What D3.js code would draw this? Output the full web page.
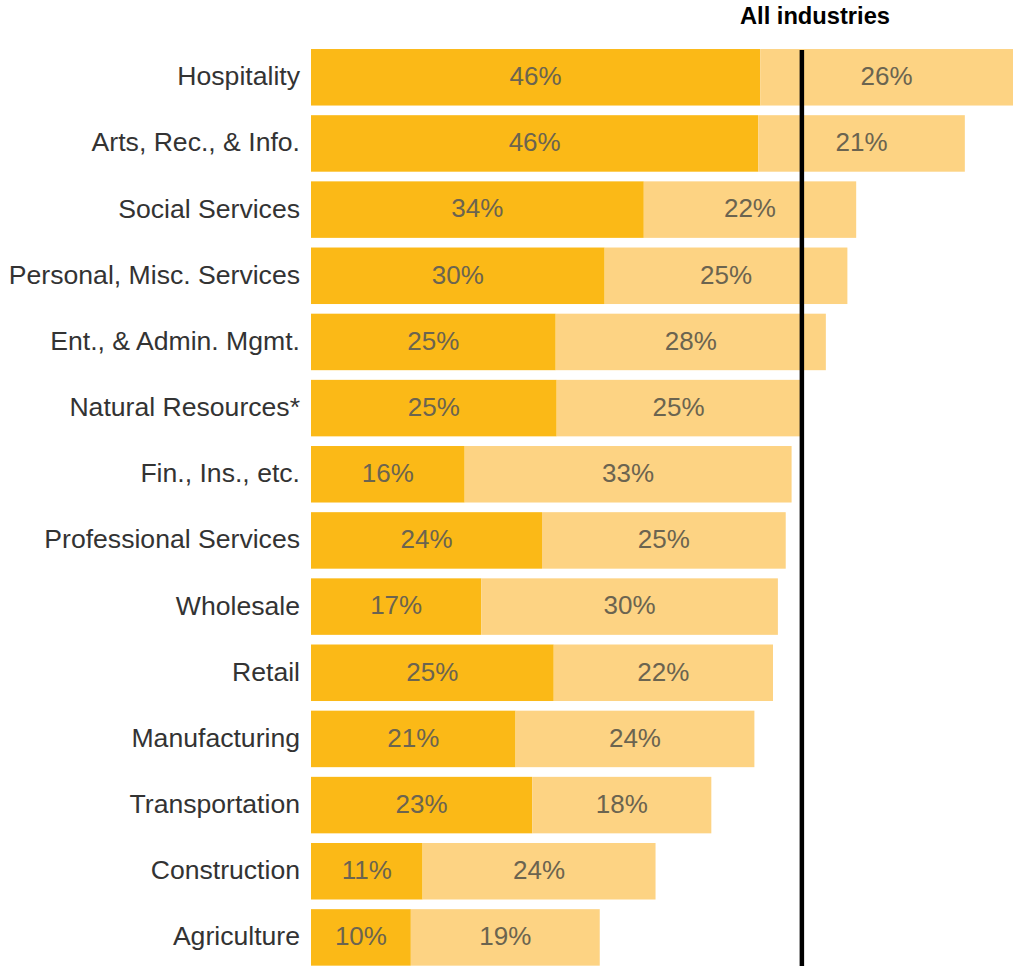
<!DOCTYPE html>
<html><head><meta charset="utf-8">
<script src="https://cdn.jsdelivr.net/npm/d3@7"></script>
<style>body{margin:0;background:#fff;} svg{display:block;}</style>
</head><body>
<svg id="c" width="1013" height="966"></svg>
<script>
const categories = ["Hospitality","Arts, Rec., & Info.","Social Services","Personal, Misc. Services","Ent., & Admin. Mgmt.","Natural Resources*","Fin., Ins., etc.","Professional Services","Wholesale","Retail","Manufacturing","Transportation","Construction","Agriculture"];
const seriesA = [45.9,45.7,34.0,30.0,25.0,25.1,15.7,23.6,17.4,24.8,20.9,22.6,11.4,10.2];
const seriesB = [26.2,21.1,21.7,24.8,27.6,24.9,33.4,24.9,30.3,22.4,24.4,18.3,23.8,19.3];
const allIndustries = 50.15;
const allLabel = "All industries";
const colors = ["#FBB917","#FDD383"];

const svg = d3.select("#c");
const x = d3.scaleLinear().domain([0,25]).range([311,555.7]);
const y = d3.scaleBand().domain(categories).range([44.2,970.5]).paddingInner(0.146).paddingOuter(0.073);

const fnt = "'Liberation Sans', Arial, sans-serif";
const rows = svg.selectAll("g.row").data(categories).join("g").attr("class","row");
rows.append("rect").attr("x",x(0)).attr("y",d=>y(d)).attr("height",y.bandwidth())
  .attr("width",(d,i)=>x(seriesA[i])-x(0)).attr("fill",colors[0]);
rows.append("rect").attr("x",(d,i)=>x(seriesA[i])).attr("y",d=>y(d)).attr("height",y.bandwidth())
  .attr("width",(d,i)=>x(seriesA[i]+seriesB[i])-x(seriesA[i])).attr("fill",colors[1]);
rows.append("text").attr("x",(d,i)=>(x(0)+x(seriesA[i]))/2).attr("y",d=>y(d)+y.bandwidth()/2)
  .attr("dy","0.3em").attr("text-anchor","middle").attr("font-family",fnt).attr("font-size",26)
  .attr("fill","#6b6450").text((d,i)=>Math.round(seriesA[i])+"%");
rows.append("text").attr("x",(d,i)=>(x(seriesA[i])+Math.min(x(seriesA[i]+seriesB[i]),1013))/2).attr("y",d=>y(d)+y.bandwidth()/2)
  .attr("dy","0.3em").attr("text-anchor","middle").attr("font-family",fnt).attr("font-size",26)
  .attr("fill","#6b6450").text((d,i)=>Math.round(seriesB[i])+"%");

const yAxis = d3.axisLeft(y).tickSize(0).tickPadding(11);
const ag = svg.append("g").attr("transform",`translate(${x(0)},0)`).call(yAxis);
ag.select(".domain").remove();
ag.selectAll("text").attr("font-family",fnt).attr("font-size",26.6).attr("fill","#333").attr("dy","0.3em");

svg.append("line").attr("x1",x(allIndustries)).attr("x2",x(allIndustries))
  .attr("y1",50).attr("y2",966).attr("stroke","#000").attr("stroke-width",4.5);
svg.append("text").attr("x",815).attr("y",24).attr("text-anchor","middle")
  .attr("font-family",fnt).attr("font-weight","bold").attr("font-size",23.7).attr("fill","#000").text(allLabel);
</script>
</body></html>
